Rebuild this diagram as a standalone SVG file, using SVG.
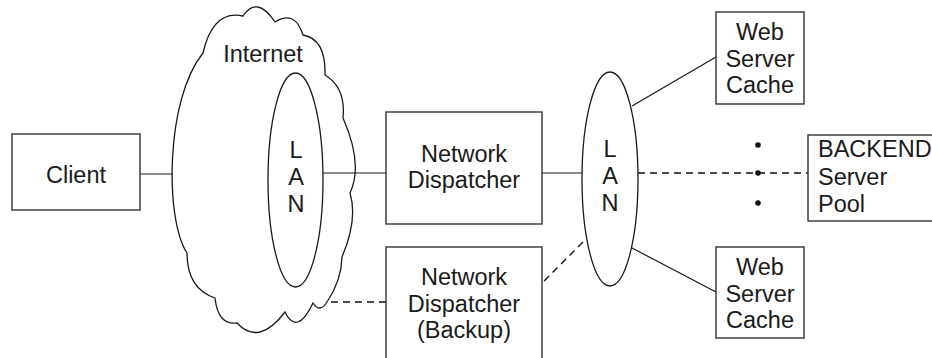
<svg xmlns="http://www.w3.org/2000/svg" width="932" height="358" viewBox="0 0 932 358">
<style>
.box{fill:#fff;stroke:#333;stroke-width:1.4}
.shape{fill:none;stroke:#1a1a1a;stroke-width:1.3}
.ln{fill:none;stroke:#1a1a1a;stroke-width:1.2}
.dash{fill:none;stroke:#111;stroke-width:1.4;stroke-dasharray:7 5}
text{font-family:"Liberation Sans",Arial,sans-serif;font-size:23.5px;fill:#1a1a1a}
.c{text-anchor:middle}
</style>
<rect width="932" height="358" fill="#fff"/>
<g id="connectors">
<line class="ln" x1="140" y1="174" x2="173" y2="174"/>
<line class="ln" x1="323" y1="173" x2="386" y2="173"/>
<line class="ln" x1="542" y1="173" x2="582" y2="173"/>
<line class="dash" x1="638" y1="173" x2="808" y2="173"/>
<line class="ln" x1="632" y1="106" x2="716" y2="57"/>
<line class="ln" x1="632" y1="248" x2="716" y2="292"/>
<line class="dash" x1="583" y1="242" x2="542" y2="283"/>
<line class="dash" x1="331" y1="302" x2="386" y2="302"/>
</g>
<g id="client">
<rect class="box" x="12" y="134" width="128" height="76"/>
<text class="c" x="76" y="183">Client</text>
</g>
<g id="internet">
<path class="shape" d="M203,53 Q213,9.5 243,16 Q257,-5 275,22 Q295,9.5 303,35 Q326,39 325,75 Q346,87.5 343,118 Q363.5,164.5 350,193 Q358,219 342,257 Q341.5,280.5 327,302 Q320,313.5 313,303 Q297,336.5 285,312 Q259,346.5 237,323 Q218,325.5 215,298 Q187,288.5 187,253 C165,220 165,100 203,53 Z" fill="#fff"/>
<text class="c" x="263" y="62">Internet</text>
</g>
<g id="lan1">
<ellipse class="shape" cx="295.5" cy="180" rx="27.5" ry="107"/>
<text class="c" x="296" y="158">L</text>
<text class="c" x="296" y="185">A</text>
<text class="c" x="296" y="212">N</text>
</g>
<g id="dispatcher">
<rect class="box" x="386" y="112" width="156" height="112"/>
<text class="c" x="464" y="162">Network</text>
<text class="c" x="464" y="188">Dispatcher</text>
</g>
<g id="dispatcher-backup">
<rect class="box" x="386" y="247" width="156" height="120"/>
<text class="c" x="464" y="285">Network</text>
<text class="c" x="464" y="312">Dispatcher</text>
<text class="c" x="464" y="338">(Backup)</text>
</g>
<g id="lan2">
<ellipse class="shape" cx="610" cy="179" rx="28" ry="107"/>
<text class="c" x="610" y="157">L</text>
<text class="c" x="610" y="184">A</text>
<text class="c" x="610" y="211">N</text>
</g>
<g id="web-cache-top">
<rect class="box" x="716" y="12" width="88" height="92"/>
<text class="c" x="760" y="40">Web</text>
<text class="c" x="760" y="67">Server</text>
<text class="c" x="760" y="93">Cache</text>
</g>
<g id="web-cache-bottom">
<rect class="box" x="716" y="247" width="88" height="91"/>
<text class="c" x="760" y="275">Web</text>
<text class="c" x="760" y="302">Server</text>
<text class="c" x="760" y="328">Cache</text>
</g>
<g id="dots">
<circle cx="758" cy="145" r="2.8" fill="#111"/>
<circle cx="758" cy="173" r="2.8" fill="#111"/>
<circle cx="758" cy="203" r="2.8" fill="#111"/>
</g>
<g id="backend">
<rect class="box" x="808" y="135" width="140" height="86"/>
<text x="818" y="157">BACKEND</text>
<text x="818" y="185">Server</text>
<text x="818" y="212">Pool</text>
</g>
</svg>
